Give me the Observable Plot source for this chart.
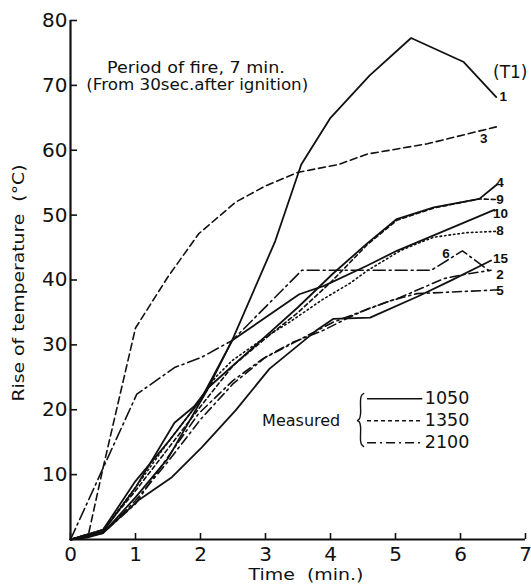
<!DOCTYPE html>
<html>
<head>
<meta charset="utf-8">
<script src="https://cdn.jsdelivr.net/npm/d3@7"></script>
<script src="https://cdn.jsdelivr.net/npm/@observablehq/plot@0.6"></script>
<style>
  html, body { margin: 0; padding: 0; background: #fff; }
  #chart { width: 531px; height: 585px; }
</style>
</head>
<body>
<div id="chart"></div>
<script>
// ---- data (time in min, rise of temperature in °C) ----
const xTicks = [0, 1, 2, 3, 4, 5, 6, 7];
const yTicks = [10, 20, 30, 40, 50, 60, 70, 80];

// series, labelled by thermocouple number
const s1  = [[0,0],[0.25,0.3],[0.5,1],[1,6.5],[1.5,12.5],[2.1,23],[2.5,31],[3.15,46],[3.55,57.8],[4.0,65],[4.6,71.5],[5.24,77.3],[6.05,73.6],[6.55,68.2]];
const s3  = [[0,0],[0.2,0.6],[0.27,0.5],[0.5,11],[1.0,32.6],[1.5,40.5],[1.97,47.1],[2.54,52],[3.0,54.5],[3.5,56.6],[4.12,57.8],[4.56,59.4],[5.49,61],[6.55,63.6]];
const s4  = [[0,0],[0.5,1.2],[1,8],[1.6,18],[1.9,20.5],[2.13,23.5],[3.0,31.3],[3.5,35.8],[4.04,41],[4.56,45.6],[5.02,49.4],[5.59,51.2],[6.29,52.5],[6.57,54.8]];
const s9  = [[0,0],[0.5,1.5],[1,7.5],[1.5,14],[2,20.5],[2.5,26.8],[3,31],[3.5,35],[4,39.6],[4.56,45.4],[5.02,49.2],[5.59,51.1],[6.29,52.5],[6.55,52.4]];
const s10 = [[0,0],[0.5,1.5],[1,9],[1.5,15],[2,21.5],[2.49,30.7],[3.52,37.8],[3.9,39.1],[4.56,42.2],[5.02,44.5],[6.52,50.8]];
const s8  = [[0,0],[0.5,1.5],[1,8],[1.5,15],[2,21.5],[2.23,25],[2.49,27.6],[3.0,31.2],[3.37,33.5],[3.88,37],[4.3,39.5],[4.56,41.4],[5.07,44.5],[5.33,45.6],[5.59,46.6],[6.1,47.3],[6.55,47.5]];
const s6  = [[0,0],[1.02,22.4],[1.6,26.5],[2.02,28.1],[2.49,30.7],[3.56,41.5],[5.55,41.5],[6.03,44.5],[6.47,41.2]];
const s15 = [[0,0],[0.5,1],[1.04,6],[1.56,9.6],[2.02,14.2],[2.54,19.9],[3.06,26.3],[3.78,32.2],[4.04,34],[4.61,34.2],[5.35,37.5],[5.85,39.9],[6.47,43]];
const s2  = [[0,0],[0.5,1],[1,6],[1.5,12],[2,18.5],[2.5,24],[3,28.1],[3.42,30.4],[3.88,32.2],[4.3,34.3],[4.56,35.5],[5.07,37.3],[5.74,40.2],[6.08,40.9],[6.47,41.5]];
const s5  = [[0,0],[0.5,1],[1,5.5],[1.35,10.6],[1.97,19.4],[2.5,24.5],[2.95,27.8],[4.04,33.5],[4.92,36.8],[5.33,37.9],[6.62,38.5]];

const seriesNames  = ["1","3","4","9","10","8","6","15","2","5"];
const seriesValues = [s1, s3, s4, s9, s10, s8, s6, s15, s2, s5];
const seriesGroup  = ["1050","1350","1050","1350","1050","1350","2100","1050","2100","2100"];
const seriesDash   = ["none","7,4","none","4,3","none","1.5,3","12,4,2,4","none","9,4,2,4","9,4,2,4"];

// end labels: [text, x, y]
const endLabels = [["1",6.6,68.3],["3",6.3,61.8],["4",6.55,55],["9",6.55,52.4],["10",6.5,50.2],["8",6.55,47.6],["6",5.72,44],["15",6.5,43.3],["2",6.55,40.8],["5",6.55,38.4]];

const legendKeys = ["1050","1350","2100"];
const legendDash = ["none","4,3","9,4,2,4"];
const braceShape = [[4.51,22.5],[4.475,22.15],[4.462,21.4],[4.462,19.3],[4.445,18.6],[4.415,18.34],[4.445,18.1],[4.462,17.4],[4.462,15.3],[4.475,14.7],[4.51,14.33]];

const titleY = "Rise of temperature  (°C)";
const titleX = "Time  (min.)";
const noteLines = ["Period of fire, 7 min.", "(From 30sec.after ignition)"];

const ink = "#111";
const font = "DejaVu Sans, sans-serif";

const lineMarks = seriesValues.map((vals, i) =>
  Plot.line(vals, {
    x: d => d[0], y: d => d[1],
    stroke: ink,
    strokeWidth: seriesDash[i] === "none" ? 1.8 : 1.6,
    strokeDasharray: seriesDash[i] === "none" ? null : seriesDash[i],
    strokeLinejoin: "miter"
  })
);

const legendRows = legendKeys.map((k, i) => ({key: k, dash: legendDash[i], y: 21.7 - i * 3.4}));
const legendMarks = legendRows.map(r =>
  Plot.ruleY([r], {y: "y", x1: 4.57, x2: 5.42, stroke: ink, strokeWidth: 1.5,
    strokeDasharray: r.dash === "none" ? null : r.dash})
);

const chart = Plot.plot({
  width: 531,
  height: 585,
  marginLeft: 70,
  marginRight: 6,
  marginTop: 20,
  marginBottom: 46,
  x: {domain: [0, 7], axis: null},
  y: {domain: [0, 80], axis: null},
  style: {fontFamily: font, fontSize: "20px", color: ink, background: "#fff"},
  marks: [
    // axis lines
    Plot.ruleX([0], {y1: 0, y2: 80, stroke: ink, strokeWidth: 2.2}),
    Plot.ruleY([0], {stroke: ink, strokeWidth: 2.2}),
    // inward ticks
    Plot.tickX(xTicks, {x: d => d, stroke: ink, strokeWidth: 1.6, insetTop: 513}),
    Plot.tickY(yTicks, {y: d => d, stroke: ink, strokeWidth: 1.6, insetRight: 448}),
    // tick labels
    Plot.axisX({ticks: xTicks, tickSize: 0, tickPadding: 7, tickFormat: d => String(d), fill: ink, label: null}),
    Plot.axisY({ticks: yTicks, tickSize: 0, tickPadding: 3, tickFormat: d => String(d), fill: ink, label: null}),
    // axis titles
    Plot.text([titleX], {frameAnchor: "bottom", textAnchor: "middle", lineAnchor: "middle", dx: 8, dy: 35, fontSize: 16.5, fill: ink}),
    Plot.text([titleY], {frameAnchor: "left", textAnchor: "middle", lineAnchor: "middle", rotate: -90, dx: -52, dy: 3, fontSize: 16, fill: ink}),
    // data lines
    ...lineMarks,
    // end labels
    Plot.text(endLabels, {x: d => d[1], y: d => d[2], text: d => d[0], textAnchor: "start",
      fontSize: 13.5, fontWeight: "bold", fontFamily: "Liberation Sans, sans-serif", fill: ink}),
    Plot.text(["(T1)"], {x: 6.5, y: 72, textAnchor: "start", fontSize: 17, fill: ink}),
    // annotation
    Plot.text([noteLines[0]], {x: 1.93, y: 72.7, fontSize: 15, fill: ink}),
    Plot.text([noteLines[1]], {x: 1.95, y: 70.0, fontSize: 15, fill: ink}),
    // legend
    Plot.text(["Measured"], {x: 4.15, y: 18.3, textAnchor: "end", fontSize: 16, fill: ink}),
    Plot.line(braceShape, {x: d => d[0], y: d => d[1], curve: "catmull-rom", stroke: ink, strokeWidth: 1.4}),
    ...legendMarks,
    Plot.text(legendRows, {x: 5.45, y: "y", text: "key", textAnchor: "start", fontSize: 17.5, fill: ink})
  ]
});

// fit a few texts to the widths they take in the figure
const fitWidths = new Map([[titleY, 237], [titleX, 115], [noteLines[0], 178], [noteLines[1], 222]]);
d3.select(chart).selectAll("text").each(function () {
  const w = fitWidths.get(this.textContent);
  if (w) d3.select(this).attr("textLength", w).attr("lengthAdjust", "spacingAndGlyphs");
});

document.getElementById("chart").appendChild(chart);
</script>
</body>
</html>
